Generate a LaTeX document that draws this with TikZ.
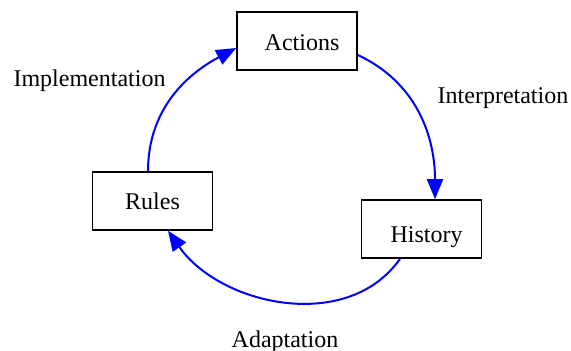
\documentclass[tikz,border=0pt]{standalone}
\usepackage{fontspec}
\setmainfont{Liberation Serif}
\usetikzlibrary{arrows.meta}

\begin{document}
\begin{tikzpicture}[x=0.5pt, y=-0.5pt,
    box/.style={draw, line width=0.8pt, minimum width=60pt, minimum height=29pt, inner sep=0pt, font=\fontsize{12}{14}\selectfont},
    lbl/.style={font=\fontsize{12}{14}\selectfont},
    flow/.style={draw=blue, line width=1pt, -{Triangle[length=10pt, width=8pt]}, blue}]
  \useasboundingbox (0,0) rectangle (571,351);
  % boxes
  \node [box] (actions) at (297,41) {\hspace{5pt}\raisebox{-1pt}[\height][\depth]{Actions}};
  \node [box] (history) at (421.5,229) {\hspace{5pt}\raisebox{-4pt}[\height][\depth]{History}};
  \node [box] (rules) at (152.5,201) {Rules};
  % labels
  \node [lbl] (implementation) at (89.5,80.5) {Implementation};
  \node [lbl] (interpretation) at (503,98) {Interpretation};
  \node [lbl] (adaptation) at (285,341.5) {Adaptation};
  % cycle
  \draw [flow] ([xshift=-2.25pt]rules.north) to [out=90, in=208] ([yshift=-3.5pt]actions.west);
  \draw [flow] ([yshift=-7pt]actions.east) to [out=-25, in=90] ([xshift=6.75pt]history.north);
  \draw [flow] ([xshift=-10.75pt]history.south) to [out=-125, in=-55] ([xshift=7.75pt]rules.south);

\end{tikzpicture}
\end{document}
